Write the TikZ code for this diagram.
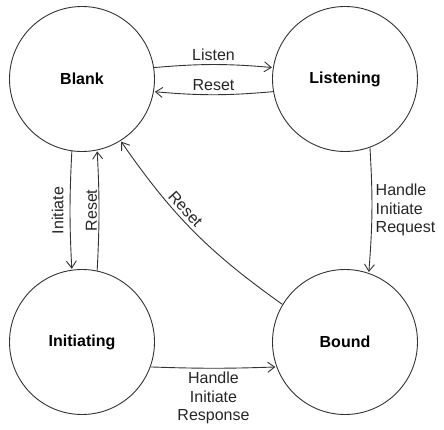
\documentclass[tikz,border=0pt]{standalone}
\usepackage{fontspec}
\setmainfont{Liberation Sans}
\usetikzlibrary{automata, positioning, arrows.meta}

\begin{document}
\begin{tikzpicture}[x=1pt, y=1pt, shorten >=1pt, node distance=263pt, on grid, auto,
		line width=0.9pt, >={Straight Barb[length=7pt, width=10pt]},
		every state/.style={draw=black!80, line width=0.9pt, minimum size=145pt, inner sep=0pt,
			font=\fontsize{16}{19}\selectfont\bfseries},
		every edge/.style={draw=black!80, line width=0.9pt},
		lbl/.style={font=\fontsize{16}{18.5}\selectfont, text=black!85}]
		\useasboundingbox (-82,79) rectangle (362,-351);

		\node[state] 			(blank) 							{Blank};
		\node[state] 			(listening) [right=of blank]		{Listening};
		\node[state] 			(initiating) [below=of blank]		{Initiating};
		\node[state] 			(bound) 	[right=of initiating]	{Bound};

		\path[->]
			(blank.9) 		edge[bend left=5]	node[lbl]					{Listen}	(listening.171)
			(listening.190)	edge[bend left=5]	node[lbl, above]			{Reset}		(blank.350)
			(blank.262)		edge[bend right=3]	node[lbl, rotate=90, above, inner sep=6pt]	{Initiate}	(initiating.98)
			(initiating.78)	edge[bend right=3]	node[lbl, rotate=90, above, inner sep=1.5pt]	{Reset}		(blank.282)
			(bound.149)		edge[bend left=10]	node[lbl, sloped, above, pos=0.6]	{Reset}	(blank.302)
			(listening.290)	edge[bend left=4]	node[lbl, right, align=left]	{Handle\\Initiate\\Request}	(bound.71)
			(initiating.-20) edge[bend right=2]	node[lbl, below, align=center]	{Handle\\Initiate\\Response}	(bound.200)
			;
	\end{tikzpicture}
\end{document}
